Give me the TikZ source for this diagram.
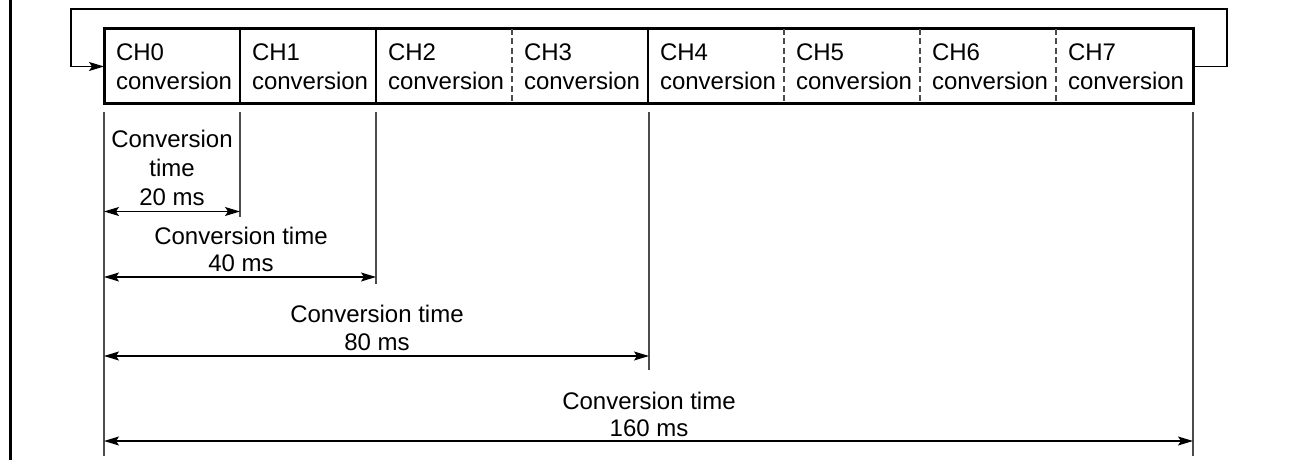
\documentclass[tikz,border=0pt]{standalone}
\usepackage{fontspec}
\setmainfont{Liberation Sans}
\usetikzlibrary{arrows.meta}
\begin{document}
\begin{tikzpicture}[x=1pt,y=-1pt,
  lbl/.style={font=\fontsize{24}{27}\selectfont, inner sep=0pt, outer sep=0pt},
  celltxt/.style={lbl, anchor=base west},
  dimtxt/.style={lbl, anchor=base},
  boxline/.style={line width=3pt},
  divsolid/.style={line width=2.5pt},
  divdash/.style={line width=1.3pt, black!70, dash pattern=on 6pt off 3.5pt},
  extline/.style={line width=1.3pt, black!70},
  fbline/.style={line width=1.3pt, -{Stealth[length=15pt,width=9pt,inset=3pt]}},
  dimarrow/.style={line width=1.3pt, {Stealth[length=15pt,width=9pt,inset=3pt]}-{Stealth[length=15pt,width=9pt,inset=3pt]}},
  frameline/.style={line width=3.5pt}
]
\useasboundingbox (0,0) rectangle (1293,462);
% left frame line
\coordinate (frT) at (10.5,0);
\coordinate (frB) at (10.5,460);
\draw[frameline] (frT) -- (frB);
% main box
\node[draw, boxline, minimum width=1089pt, minimum height=75pt, anchor=north west, inner sep=0pt, outer sep=0pt] (box) at (104,29) {};
% dividers
\foreach \i in {1,2,4}{
  \draw[divsolid] ({104+136*\i},29) -- ({104+136*\i},104);
}
\foreach \i in {3,5,6,7}{
  \draw[divdash] ({104+136*\i},29) -- ({104+136*\i},104);
}
% cell texts
\foreach \i in {0,...,7}{
  \node[celltxt] (ch\i) at ({104+136*\i+12},61) {CH\i};
  \node[celltxt] (cv\i) at ({104+136*\i+12},90) {conversion};
}
% feedback loop
\coordinate (fbR) at (1227,9);
\coordinate (fbL) at (71,9);
\draw[fbline] (box.east) -| (fbR) -- (fbL) |- (box.west);
% extension lines
\coordinate (e0a) at (104,112);   \coordinate (e0b) at (104,456);
\coordinate (e1a) at (240,112);   \coordinate (e1b) at (240,217);
\coordinate (e2a) at (376,112);   \coordinate (e2b) at (376,284);
\coordinate (e4a) at (649,112);   \coordinate (e4b) at (649,370);
\coordinate (e8a) at (1193,112);  \coordinate (e8b) at (1193,456);
\foreach \n in {0,1,2,4,8}{
  \draw[extline] (e\n a) -- (e\n b);
}
% dimension arrows
\coordinate (d20a) at (104,211.5);  \coordinate (d20b) at (240,211.5);
\coordinate (d40a) at (104,277);    \coordinate (d40b) at (376,277);
\coordinate (d80a) at (104,356);    \coordinate (d80b) at (649,356);
\coordinate (d160a) at (104,441);   \coordinate (d160b) at (1193,441);
\draw[dimarrow] (d20a) -- (d20b);
\draw[dimarrow] (d40a) -- (d40b);
\draw[dimarrow] (d80a) -- (d80b);
\draw[dimarrow] (d160a) -- (d160b);
% dimension labels
\node[dimtxt] (t20a) at (172,148) {Conversion};
\node[dimtxt] (t20b) at (172,177) {time};
\node[dimtxt] (t20c) at (172,206) {20 ms};
\node[dimtxt] (t40a) at (241,245) {Conversion time};
\node[dimtxt] (t40b) at (241,272) {40 ms};
\node[dimtxt] (t80a) at (377,323) {Conversion time};
\node[dimtxt] (t80b) at (377,350) {80 ms};
\node[dimtxt] (t160a) at (649,409) {Conversion time};
\node[dimtxt] (t160b) at (649,436) {160 ms};
\end{tikzpicture}
\end{document}
